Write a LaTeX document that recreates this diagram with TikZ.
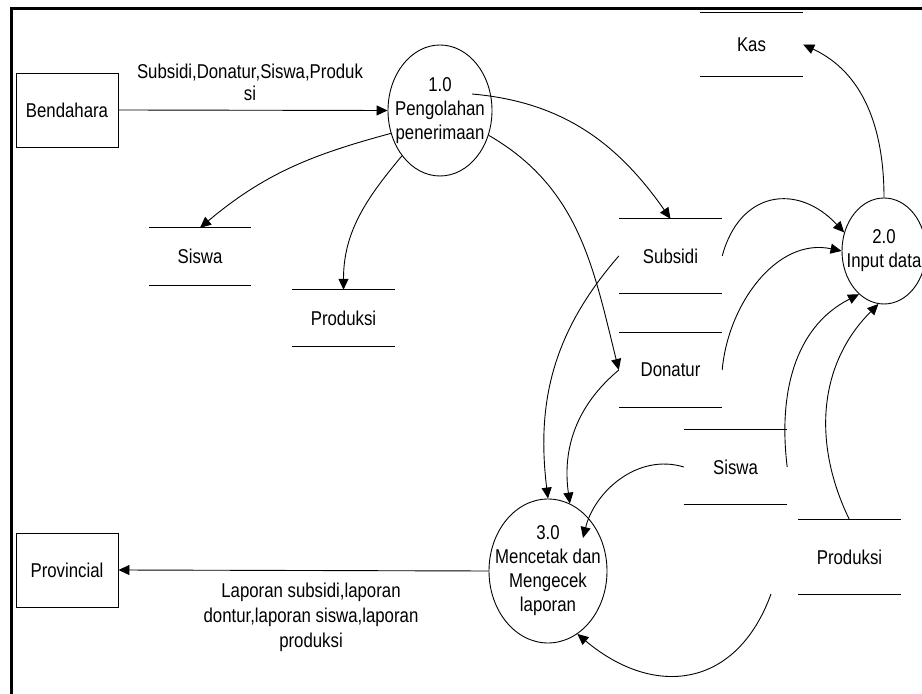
\documentclass[tikz,border=0pt]{standalone}
\usepackage{fontspec}
\setmainfont{Liberation Sans}[FakeStretch=0.84]
\usetikzlibrary{arrows.meta,shapes.geometric,calc}
\begin{document}
\begin{tikzpicture}[x=1pt,y=1pt,
	font=\fontsize{20}{24}\selectfont,
	flow/.style={line width=0.9pt,-{Triangle[length=11pt,width=10pt]}},
	ent/.style={draw,line width=0.9pt,minimum width=102pt,minimum height=74pt,inner sep=0pt},
	proc/.style={draw,ellipse,line width=0.9pt,inner sep=0pt},
	store/.style={minimum width=103pt,minimum height=74pt,inner sep=0pt}]
	\useasboundingbox (0,0) rectangle (922,694);
	\draw[line width=2.5pt] (11.5,-10) -- (11.5,685.5) -- (935,685.5);
	% entities
	\node[ent] (bend) at (67,584) {Bendahara};
	\node[ent] (prov) at (67,124) {Provincial};
	% processes
	\node[proc,minimum width=104pt,minimum height=131pt,label={[align=center]center:{1.0\\Pengolahan\\penerimaan}}] (p1) at (440,583.5) {};
	\node[proc,minimum width=84pt,minimum height=106pt,label={[align=center]center:{2.0\\Input data}}] (p2) at (884,443) {};
	\node[proc,minimum width=118pt,minimum height=144pt,label={[align=center]center:{3.0\\Mencetak dan\\Mengecek\\laporan}}] (p3) at (548,123) {};
	% data stores
	\node[store,minimum height=63pt] (kas) at (751.5,649.5) {Kas};
	\node[store] (sub) at (670.5,438) {Subsidi};
	\node[store] (don) at (670.5,324) {Donatur};
	\node[store] (sisR) at (735.5,227) {Siswa};
	\node[store] (proR) at (849.5,137) {Produksi};
	\node[store,minimum width=102pt,minimum height=57pt] (sisL) at (200,437.5) {Siswa};
	\node[store,minimum height=56pt] (proL) at (343.5,376) {Produksi};
	\foreach \s in {kas,sub,don,sisR,proR,sisL,proL}
	\draw[line width=1pt] (\s.north west) -- (\s.north east) (\s.south west) -- (\s.south east);
	% flows
	\draw[flow] (bend.east) -- (p1.west);
	\node[align=center,font=\fontsize{20}{22}\selectfont] (lblin) at (250,612) {Subsidi,Donatur,Siswa,Produk\\si};
	\draw[flow] (p3.west) -- (prov.east);
	\node[align=center,font=\fontsize{20}{25}\selectfont] (lblout) at (311,77) {Laporan subsidi,laporan\\dontur,laporan siswa,laporan\\produksi};
	\draw[flow] (p1.205) to[out=195,in=40] (sisL.north);
	\draw[flow] (p1.230) to[out=230,in=90] (proL.north);
	\draw[flow] ($(p1.center)+(32,16.5)$) to[out=-5,in=125] (sub.north);
	\draw[flow] (p1.-27) to[out=-30,in=104] (don.west);
	\draw[flow] (sub.west) to[out=229,in=97] (p3.north);
	\draw[flow] (don.west) to[out=220,in=98] (p3.72);
	\draw[flow] (sisR.west) to[out=163,in=76] ($(p3.center)+(35,33)$);
	\coordinate (proRout) at (771,100);
	\draw[flow] (proRout) to[out=250,in=-40,looseness=1.3] (p3.-65);
	\draw[flow] (sub.east) to[out=75,in=133,looseness=1.4] (p2.155);
	\draw[flow] (don.east) to[out=85,in=168] (p2.west);
	\draw[flow] (sisR.east) to[out=97,in=207] (p2.240);
	\draw[flow] (proR.north) to[out=116,in=225] (p2.264);
	\draw[flow] (p2.north) to[out=90,in=-25] (kas.east);
\end{tikzpicture}
\end{document}
